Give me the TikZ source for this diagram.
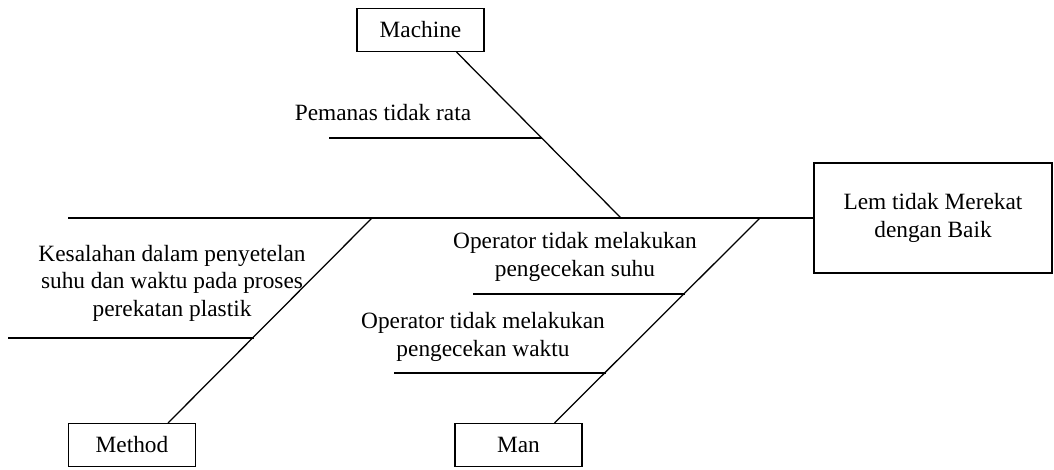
\documentclass[tikz,border=0pt]{standalone}
\usepackage{fontspec}
\setmainfont{Liberation Serif}
\begin{document}
\begin{tikzpicture}[x=0.025cm,y=-0.025cm,line width=0.9pt,
  every node/.style={font=\fontsize{16.6}{19.6}\selectfont},
  catbox/.style={draw,minimum width=3.175cm,minimum height=1.07cm,inner sep=0pt},
  causetext/.style={align=center,inner sep=0pt}]
 \useasboundingbox (0,0) rectangle (1054,469);
 \node [catbox] (machine) at (420.5,30) {Machine};
 \node [catbox] (method) at (132,445) {Method};
 \node [catbox] (man) at (518.5,445) {Man};
 \node [draw,minimum width=5.95cm,minimum height=2.75cm,inner sep=0pt,align=center] (effect) at (933,218) {Lem tidak Merekat\\dengan Baik};
 \coordinate (tail) at (68,218);
 \coordinate (jmachine) at (621,218);
 \coordinate (jmethod) at (372,218);
 \coordinate (jman) at (760,218);
 \draw (tail) -- (effect.west);
 \draw ([xshift=0.9cm]machine.south) -- (jmachine);
 \draw ([xshift=0.9cm]method.north) -- (jmethod);
 \draw ([xshift=0.9cm]man.north) -- (jman);
 \coordinate (c1a) at (329,138);
 \coordinate (c1b) at (542,138);
 \draw (c1a) -- (c1b);
 \node [causetext] (c1) at (383,113) {Pemanas tidak rata};
 \coordinate (c2a) at (8,338);
 \coordinate (c2b) at (254,338);
 \draw (c2a) -- (c2b);
 \node [causetext] (c2) at (172,283) {Kesalahan dalam penyetelan\\suhu dan waktu pada proses\\perekatan plastik};
 \coordinate (c3a) at (473,294);
 \coordinate (c3b) at (685,294);
 \draw (c3a) -- (c3b);
 \node [causetext] (c3) at (575,257) {Operator tidak melakukan\\pengecekan suhu};
 \coordinate (c4a) at (394,373);
 \coordinate (c4b) at (606,373);
 \draw (c4a) -- (c4b);
 \node [causetext] (c4) at (483,337) {Operator tidak melakukan\\pengecekan waktu};
\end{tikzpicture}
\end{document}
